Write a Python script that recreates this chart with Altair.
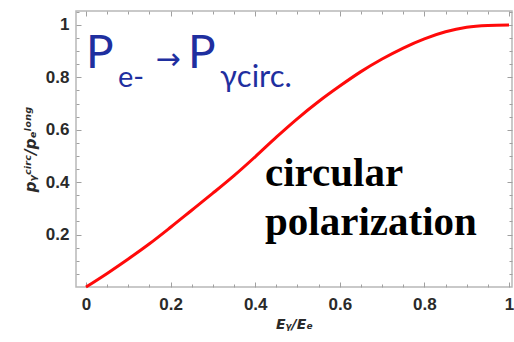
import altair as alt
import pandas as pd

# Polarization transfer: circular photon polarization vs. photon energy fraction
energy_ratio = [0.0, 0.05, 0.1, 0.15, 0.2, 0.25, 0.3, 0.35, 0.4, 0.45, 0.5,
                0.55, 0.6, 0.65, 0.7, 0.75, 0.8, 0.85, 0.9, 0.95, 1.0]
circ_polarization = [0.0, 0.052, 0.107, 0.165, 0.228, 0.293, 0.358, 0.425,
                     0.497, 0.572, 0.643, 0.708, 0.767, 0.822, 0.870, 0.912,
                     0.947, 0.974, 0.991, 0.998, 1.0]

x_major = [0.0, 0.2, 0.4, 0.6, 0.8, 1.0]
x_minor = [0.05, 0.1, 0.15, 0.25, 0.3, 0.35, 0.45, 0.5, 0.55, 0.65, 0.7,
           0.75, 0.85, 0.9, 0.95]
y_major = [0.2, 0.4, 0.6, 0.8, 1.0]
y_minor = [0.05, 0.1, 0.15, 0.25, 0.3, 0.35, 0.45, 0.5, 0.55, 0.65, 0.7,
           0.75, 0.85, 0.9, 0.95, 1.05]

df = pd.DataFrame({"x": energy_ratio, "y": circ_polarization})

x_scale = alt.Scale(domain=[-0.0236, 1.0071], nice=False, zero=False)
y_scale = alt.Scale(domain=[0.0, 1.0534], nice=False, zero=False)

TICK_COLOR = "#a0a0a0"
LABEL_FONT = "Liberation Sans"


def inner_axis(orient, values, size, labels=False, **kw):
    # Ticks drawn inward from the frame: shift the axis inside by its tick length
    return alt.Axis(orient=orient, values=values, tickSize=size, offset=-size,
                    domain=False, grid=False, labels=labels, tickColor=TICK_COLOR,
                    tickWidth=1, labelFlush=False, **kw)


x_main = inner_axis(
    "bottom", x_major, 5, labels=True, format=".1~f",
    labelFont=LABEL_FONT, labelFontSize=17, labelFontWeight="bold",
    labelColor="#2a2a2a", labelPadding=9,
    title="Eᵧ/Eₑ", titleFont="DejaVu Sans", titleFontSize=14,
    titleFontStyle="italic", titleFontWeight="bold", titleColor="#2a2a2a",
    titlePadding=5)
y_main = inner_axis(
    "left", y_major, 5, labels=True, format=".1~f",
    labelFont=LABEL_FONT, labelFontSize=17, labelFontWeight="bold",
    labelColor="#2a2a2a", labelPadding=7,
    title="pᵧᶜⁱʳᶜ/pₑˡᵒⁿᵍ", titleFont="DejaVu Sans", titleFontSize=15,
    titleFontStyle="italic", titleFontWeight="bold", titleColor="#2a2a2a",
    titlePadding=7)

axis_sets = [
    (x_main, y_main, True),
    (inner_axis("bottom", x_minor, 3, title=None), inner_axis("left", y_minor, 3, title=None), False),
    (inner_axis("top", x_major, 5, title=None), inner_axis("right", y_major, 5, title=None), False),
    (inner_axis("top", x_minor, 3, title=None), inner_axis("right", y_minor, 3, title=None), False),
]

layers = []
for x_axis, y_axis, visible in axis_sets:
    layers.append(
        alt.Chart(df)
        .mark_line(color="#ff0a0a", strokeWidth=3 if visible else 1,
                   opacity=1 if visible else 0, interpolate="monotone")
        .encode(x=alt.X("x:Q", scale=x_scale, axis=x_axis),
                y=alt.Y("y:Q", scale=y_scale, axis=y_axis))
    )


def label(text, x, y, size, font, color, weight="normal", align="left",
          baseline="alphabetic"):
    return (
        alt.Chart(pd.DataFrame({"t": [text]}))
        .mark_text(font=font, fontSize=size, fontWeight=weight, color=color,
                   align=align, baseline=baseline)
        .encode(x=alt.value(x), y=alt.value(y), text="t:N")
    )


BLUE = "#1f2f9f"
annotations = [
    label("P", 10, 57, 46, "Lato", BLUE),
    label("e-", 42, 76, 29, "Lato", BLUE),
    label("→", 92, 49, 30, "DejaVu Sans", BLUE, align="center", baseline="middle"),
    label("P", 112, 57, 46, "Lato", BLUE),
    label("γcirc.", 144, 76, 31, "Lato", BLUE),
    label("circular", 189, 175, 41, "Liberation Serif", "#000000", weight="bold"),
    label("polarization", 189, 224, 41, "Liberation Serif", "#000000", weight="bold"),
]

chart = (
    alt.layer(*layers, *annotations)
    .resolve_axis(x="independent", y="independent")
    .properties(
        width=436, height=276,
        autosize=alt.AutoSizeParams(type="none"),
        padding={"left": 76, "top": 11, "right": 2, "bottom": 55},
        background="white",
    )
    .configure_view(stroke="#b8b8b8", strokeWidth=1.5)
)

chart.save("out.html", embed_options={"renderer": "svg", "actions": False})
